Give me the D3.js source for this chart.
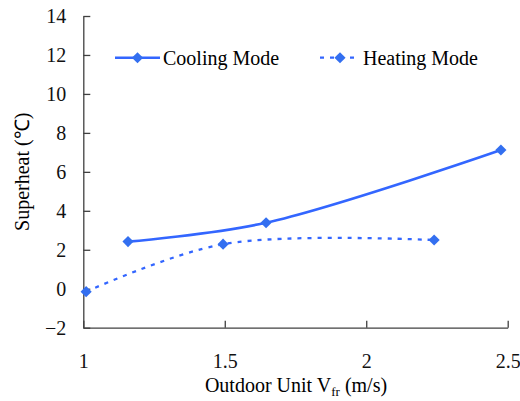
<!DOCTYPE html>
<html lang="en">
<head>
  <meta charset="UTF-8">
  <title>Superheat vs Outdoor Unit Vfr</title>
  <script src="https://d3js.org/d3.v7.min.js"></script>
  <style>
    body { margin: 0; background: #fff; }
    svg { display: block; font-family: "Liberation Serif", "Times New Roman", serif; }
    .axis path, .axis line { stroke: #404040; stroke-width: 1.3; }
    .axis text { font-size: 20px; fill: #111; font-family: "Liberation Serif", serif; }
  </style>
</head>
<body>
  <svg id="chart"></svg>
  <script>
    const coolingX = [1.158, 1.646, 2.476];
    const coolingY = [2.42, 3.39, 7.12];
    const heatingX = [1.01, 1.494, 2.24];
    const heatingY = [-0.15, 2.29, 2.5];
    const xTicks = [1, 1.5, 2, 2.5];
    const yTicks = [-2, 0, 2, 4, 6, 8, 10, 12, 14];

    const width = 520, height = 401;
    const lineColor = "#3366ff";
    const markColor = "#336ff0";

    const svg = d3.select("#chart").attr("width", width).attr("height", height);

    const x = d3.scaleLinear().domain([1, 2.5]).range([83.3, 507.7]);
    const y = d3.scaleLinear().domain([-2, 14]).range([327.7, 16]);

    // Axes (ticks point inward)
    const yAxis = d3.axisLeft(y).tickValues(yTicks).tickSizeOuter(0).tickSizeInner(-7);
    const gy = svg.append("g").attr("class", "axis")
      .attr("transform", `translate(${x(1)},0)`)
      .call(yAxis);
    gy.selectAll(".tick text").attr("x", -17).attr("dy", "0.34em");

    const xAxis = d3.axisBottom(x).tickValues(xTicks).tickSizeInner(-7).tickSizeOuter(0)
      .tickFormat(d3.format("~g"));
    const gx = svg.append("g").attr("class", "axis")
      .attr("transform", `translate(0,${y(-2)})`)
      .call(xAxis);
    gx.selectAll(".tick text").attr("y", 40).attr("dy", null);

    // Axis titles
    svg.append("text")
      .attr("transform", `translate(29,${(y(-2) + y(14)) / 2}) rotate(-90)`)
      .attr("text-anchor", "middle")
      .style("font-size", "20px")
      .text("Superheat (℃)");

    const xt = svg.append("text")
      .attr("x", 296)
      .attr("y", 392)
      .attr("text-anchor", "middle")
      .style("font-size", "20px");
    xt.append("tspan").text("Outdoor Unit V");
    xt.append("tspan").attr("dy", 4).style("font-size", "13px").text("fr");
    xt.append("tspan").attr("dy", -4).text(" (m/s)");

    const line = d3.line()
      .x(d => x(d[0]))
      .y(d => y(d[1]))
      .curve(d3.curveCatmullRom.alpha(0.5));

    const cooling = coolingX.map((v, i) => [v, coolingY[i]]);
    const heating = heatingX.map((v, i) => [v, heatingY[i]]);

    svg.append("path").datum(cooling)
      .attr("d", line).attr("fill", "none")
      .attr("stroke", lineColor).attr("stroke-width", 2.6);

    svg.append("path").datum(heating)
      .attr("d", line).attr("fill", "none")
      .attr("stroke", lineColor).attr("stroke-width", 2.3)
      .attr("stroke-dasharray", "4,6");

    const diamond = d3.symbol().type(d3.symbolSquare).size(62);
    [cooling, heating].forEach(s => {
      svg.selectAll(null).data(s).enter().append("path")
        .attr("d", diamond)
        .attr("transform", d => `translate(${x(d[0])},${y(d[1])}) rotate(45)`)
        .attr("fill", markColor);
    });

    // Legend
    const legend = [
      { name: "Cooling Mode", x0: 115, x1: 160, dash: null, w: 2.6 },
      { name: "Heating Mode", x0: 320, x1: 360, dash: "4,6", w: 2.3 }
    ];
    const ly = 57.7;
    legend.forEach(l => {
      svg.append("line")
        .attr("x1", l.x0).attr("x2", l.x1).attr("y1", ly).attr("y2", ly)
        .attr("stroke", lineColor).attr("stroke-width", l.w)
        .attr("stroke-dasharray", l.dash);
      svg.append("path").attr("d", diamond)
        .attr("transform", `translate(${(l.x0 + l.x1) / 2},${ly}) rotate(45)`)
        .attr("fill", markColor);
      svg.append("text")
        .attr("x", l.x1 + 3).attr("y", ly + 7)
        .style("font-size", "20px")
        .text(l.name);
    });
  </script>
</body>
</html>
